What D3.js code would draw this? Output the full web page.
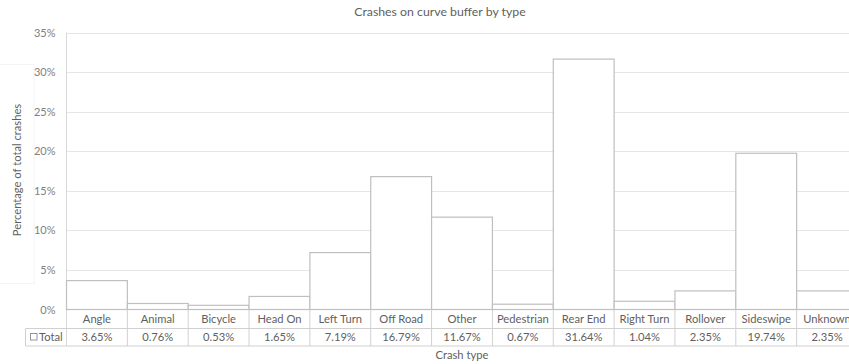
<!DOCTYPE html>
<html>
<head>
<meta charset="utf-8">
<script src="https://cdn.jsdelivr.net/npm/d3@7"></script>
<style>
  html, body { margin: 0; padding: 0; background: #fff; }
  svg { display: block; font-family: Lato, "Open Sans", sans-serif; }
</style>
</head>
<body>
<svg id="chart" width="849" height="364"></svg>
<script>
// Crash types and their share of total crashes (%)
const categories = ["Angle", "Animal", "Bicycle", "Head On", "Left Turn", "Off Road", "Other",
  "Pedestrian", "Rear End", "Right Turn", "Rollover", "Sideswipe", "Unknown"];
const totals = [3.65, 0.76, 0.53, 1.65, 7.19, 16.79, 11.67, 0.67, 31.64, 1.04, 2.35, 19.74, 2.35];
const yTicks = [0, 5, 10, 15, 20, 25, 30, 35];
const seriesName = "Total";

const svg = d3.select("#chart");
const textColor = "#5f5f5f";

const plot = { left: 66.5, right: 857.5, top: 32.5, bottom: 309.5 };
const rowCat = 328.5, rowVal = 346;
const tableLeft = 25.5;

const x = d3.scaleBand().domain(categories).range([plot.left, plot.right]).padding(0);
const y = d3.scaleLinear().domain([0, 35]).range([plot.bottom, plot.top]);

// faint frame around the vertical axis title
svg.append("rect")
  .attr("x", -1).attr("y", 64.5).attr("width", 35).attr("height", 219)
  .attr("fill", "none").attr("stroke", "#f4f4f4").attr("stroke-width", 1);

// title
svg.append("text")
  .attr("x", 440).attr("y", 16)
  .attr("text-anchor", "middle")
  .attr("font-size", 12.3).attr("fill", textColor)
  .text("Crashes on curve buffer by type");

// gridlines
svg.append("g")
  .selectAll("line")
  .data(yTicks.filter(d => d > 0))
  .join("line")
  .attr("x1", plot.left).attr("x2", plot.right)
  .attr("y1", d => Math.round(y(d)) + 0.5).attr("y2", d => Math.round(y(d)) + 0.5)
  .attr("stroke", "#e6e6e6").attr("stroke-width", 1);

// y axis labels
const yAxis = d3.axisLeft(y).tickValues(yTicks).tickFormat(d => d + "%").tickSize(0).tickPadding(11);
const gy = svg.append("g").attr("transform", `translate(${plot.left},0)`).call(yAxis);
gy.select(".domain").remove();
gy.selectAll("text").attr("font-size", 11).attr("fill", "#808080").attr("font-family", "Lato, sans-serif");

// vertical axis line
svg.append("line")
  .attr("x1", plot.left).attr("x2", plot.left)
  .attr("y1", plot.top).attr("y2", rowVal)
  .attr("stroke", "#d9d9d9");

// bars
svg.append("g")
  .selectAll("rect")
  .data(totals.map((v, i) => ({ c: categories[i], v })))
  .join("rect")
  .attr("x", d => x(d.c))
  .attr("width", x.bandwidth())
  .attr("y", d => y(d.v))
  .attr("height", d => y(0) - y(d.v))
  .attr("fill", "#ffffff")
  .attr("stroke", "#bfbfbf")
  .attr("stroke-width", 1.2);

// data table grid
const tbl = svg.append("g").attr("stroke", "#d0d0d0").attr("stroke-width", 1);
tbl.append("line").attr("x1", plot.left).attr("x2", plot.right).attr("y1", plot.bottom).attr("y2", plot.bottom).attr("stroke", "#bfbfbf");
tbl.append("line").attr("x1", tableLeft).attr("x2", plot.right).attr("y1", rowCat).attr("y2", rowCat);
tbl.append("line").attr("x1", tableLeft).attr("x2", plot.right).attr("y1", rowVal).attr("y2", rowVal);
tbl.append("line").attr("x1", tableLeft).attr("x2", tableLeft).attr("y1", rowCat).attr("y2", rowVal);
tbl.selectAll("line.sep")
  .data(categories.slice(1))
  .join("line")
  .attr("class", "sep")
  .attr("x1", d => x(d)).attr("x2", d => x(d))
  .attr("y1", plot.bottom).attr("y2", rowVal);

// category labels
svg.append("g")
  .selectAll("text")
  .data(categories)
  .join("text")
  .attr("x", d => x(d) + x.bandwidth() / 2)
  .attr("y", (plot.bottom + rowCat) / 2 + 4)
  .attr("text-anchor", "middle")
  .attr("font-size", 11.2).attr("fill", textColor)
  .text(d => d);

// value labels
svg.append("g")
  .selectAll("text")
  .data(totals.map((v, i) => ({ c: categories[i], v })))
  .join("text")
  .attr("x", d => x(d.c) + x.bandwidth() / 2)
  .attr("y", (rowCat + rowVal) / 2 + 4)
  .attr("text-anchor", "middle")
  .attr("font-size", 11.2).attr("fill", textColor)
  .text(d => d.v.toFixed(2) + "%");

// legend key in the table
svg.append("rect")
  .attr("x", 30.5).attr("y", 333.5).attr("width", 6.5).attr("height", 6.5)
  .attr("fill", "#fff").attr("stroke", "#8c8c8c").attr("stroke-width", 0.9);
svg.append("text")
  .attr("x", 39).attr("y", (rowCat + rowVal) / 2 + 4)
  .attr("font-size", 11.2).attr("fill", textColor)
  .text(seriesName);

// axis titles
svg.append("text")
  .attr("x", 462).attr("y", 359)
  .attr("text-anchor", "middle")
  .attr("font-size", 11.2).attr("fill", textColor)
  .text("Crash type");

svg.append("text")
  .attr("transform", "translate(21,170) rotate(-90)")
  .attr("text-anchor", "middle")
  .attr("font-size", 11.2).attr("fill", textColor)
  .text("Percentage of total crashes");
</script>
</body>
</html>
